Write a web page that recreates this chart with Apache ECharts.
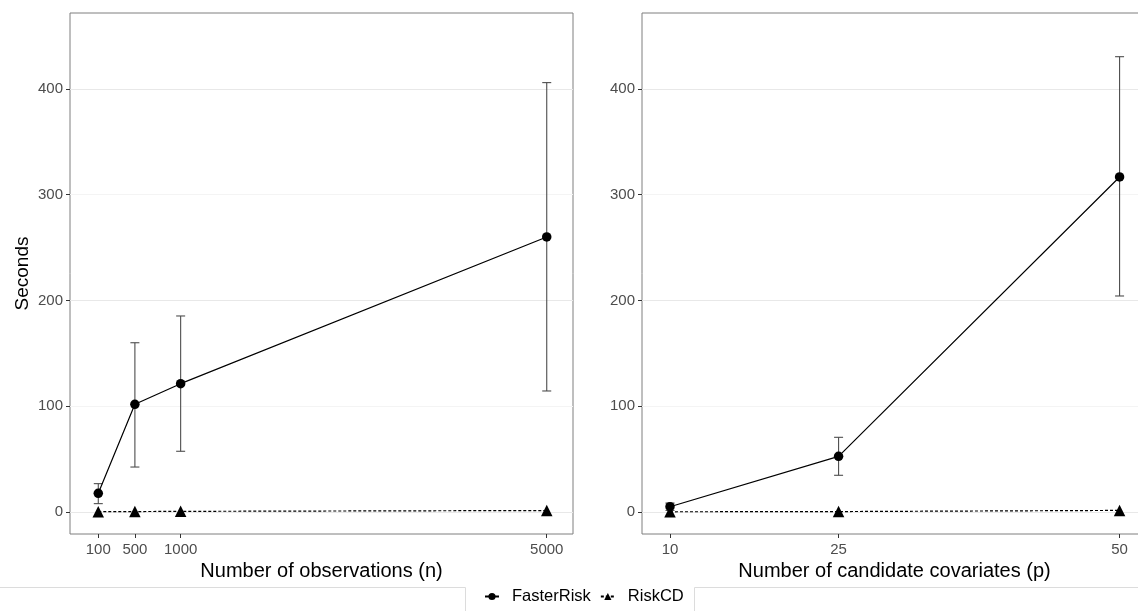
<!DOCTYPE html>
<html>
<head>
<meta charset="utf-8">
<script src="https://cdn.jsdelivr.net/npm/echarts@6/dist/echarts.min.js"></script>
<style>
  html, body { margin: 0; padding: 0; background: #fff; }
  #chart { width: 1138px; height: 611px; }
</style>
</head>
<body>
<div id="chart"></div>
<script>
// Runtime (seconds) vs. sample size n
const nObs = [100, 500, 1000, 5000];
const fasterN = [17.7, 101.8, 121.3, 260.0];
const fasterNLow = [7.9, 42.5, 57.4, 114.4];
const fasterNHigh = [26.8, 160.0, 185.3, 405.9];
const riskcdN = [0.3, 0.4, 0.6, 1.4];

// Runtime (seconds) vs. number of candidate covariates p
const pCov = [10, 25, 50];
const fasterP = [5.0, 52.6, 316.7];
const fasterPLow = [1.5, 34.7, 204.2];
const fasterPHigh = [8.5, 70.6, 430.4];
const riskcdP = [0.2, 0.4, 1.5];

// Axis break labels
const nBreaks = [100, 500, 1000, 5000];
const pBreaks = [10, 25, 50];
const yBreaks = [0, 100, 200, 300, 400];

const FONT = '"Liberation Sans", Arial, Helvetica, sans-serif';
const zip = (xs, ys) => xs.map((x, i) => [x, ys[i]]);
const zip3 = (xs, lo, hi) => xs.map((x, i) => [x, lo[i], hi[i]]);

function errorBarItem(params, api) {
  const x = api.value(0);
  const lo = api.coord([x, api.value(1)]);
  const hi = api.coord([x, api.value(2)]);
  const half = 4.5;
  const style = { stroke: '#4d4d4d', lineWidth: 1.1, fill: null };
  return {
    type: 'group',
    children: [
      { type: 'line', shape: { x1: lo[0], y1: lo[1], x2: hi[0], y2: hi[1] }, style },
      { type: 'line', shape: { x1: lo[0] - half, y1: lo[1], x2: lo[0] + half, y2: lo[1] }, style },
      { type: 'line', shape: { x1: hi[0] - half, y1: hi[1], x2: hi[0] + half, y2: hi[1] }, style }
    ]
  };
}

function yAxis(gridIndex, withName) {
  return {
    type: 'value', gridIndex,
    min: -20.8, max: 471.7, splitNumber: 10,
    name: withName ? 'Seconds' : '',
    nameLocation: 'middle', nameGap: 38,
    nameTextStyle: { fontFamily: FONT, fontSize: 19, color: '#000' },
    axisLine: { show: false, onZero: false },
    axisTick: { show: true, length: 4, customValues: yBreaks, lineStyle: { color: '#333', width: 1 } },
    axisLabel: { customValues: yBreaks, margin: 7, fontFamily: FONT, fontSize: 15, color: '#4d4d4d',
                 formatter: v => String(v) },
    splitLine: { show: true, lineStyle: { color: ['#e8e8e8', '#f4f4f4'], width: 1 } }
  };
}

function xAxis(gridIndex, min, max, breaks, title) {
  return {
    type: 'value', gridIndex, min, max,
    name: title, nameLocation: 'middle', nameGap: 21,
    nameTextStyle: { fontFamily: FONT, fontSize: 20, color: '#000' },
    axisLine: { show: false, onZero: false },
    axisTick: { show: true, length: 4, customValues: breaks, lineStyle: { color: '#333', width: 1 } },
    axisLabel: { customValues: breaks, margin: 8, fontFamily: FONT, fontSize: 15, color: '#4d4d4d',
                 formatter: v => String(v) },
    splitLine: { show: false }
  };
}

const lineSeries = (name, idx, data, dotted, symbol, size) => ({
  name, type: 'line', xAxisIndex: idx, yAxisIndex: idx, data,
  symbol, symbolSize: size, z: 5,
  itemStyle: { color: '#000' },
  lineStyle: { color: '#000', width: 1.2, type: dotted ? [3, 2] : 'solid' },
  emphasis: { disabled: true }, animation: false
});

const errSeries = (idx, data) => ({
  type: 'custom', xAxisIndex: idx, yAxisIndex: idx, data, z: 3,
  renderItem: errorBarItem, animation: false, silent: true
});

const chart = echarts.init(document.getElementById('chart'), null, { renderer: 'canvas' });
chart.setOption({
  backgroundColor: '#fff',
  animation: false,
  grid: [
    { left: 70, top: 13, width: 503, height: 521, show: true, borderColor: '#7f7f7f', borderWidth: 1,
      backgroundColor: 'transparent', outerBoundsMode: 'none', containLabel: false },
    { left: 642, top: 13, width: 505, height: 521, show: true, borderColor: '#7f7f7f', borderWidth: 1,
      backgroundColor: 'transparent', outerBoundsMode: 'none', containLabel: false }
  ],
  xAxis: [
    xAxis(0, -209, 5287, nBreaks, 'Number of observations (n)'),
    xAxis(1, 7.51, 52.44, pBreaks, 'Number of candidate covariates (p)')
  ],
  yAxis: [yAxis(0, true), yAxis(1, false)],
  legend: {
    data: ['FasterRisk', 'RiskCD'],
    top: 588, left: 484, padding: 0,
    itemWidth: 14, itemHeight: 9, itemGap: 9,
    textStyle: { fontFamily: FONT, fontSize: 16.5, color: '#000', padding: [0, 0, 0, 8] },
    selectedMode: false
  },
  graphic: [
    { type: 'polyline', z: 0, shape: { points: [[0, 587.5], [465.5, 587.5], [465.5, 611]] }, style: { stroke: '#dcdcdc', lineWidth: 1, fill: null } },
    { type: 'polyline', z: 0, shape: { points: [[1138, 587.5], [694.5, 587.5], [694.5, 611]] }, style: { stroke: '#dcdcdc', lineWidth: 1, fill: null } }
  ],
  series: [
    errSeries(0, zip3(nObs, fasterNLow, fasterNHigh)),
    errSeries(1, zip3(pCov, fasterPLow, fasterPHigh)),
    lineSeries('FasterRisk', 0, zip(nObs, fasterN), false, 'circle', 9.5),
    lineSeries('RiskCD', 0, zip(nObs, riskcdN), true, 'triangle', 11.5),
    lineSeries('FasterRisk', 1, zip(pCov, fasterP), false, 'circle', 9.5),
    lineSeries('RiskCD', 1, zip(pCov, riskcdP), true, 'triangle', 11.5)
  ]
});
</script>
</body>
</html>
